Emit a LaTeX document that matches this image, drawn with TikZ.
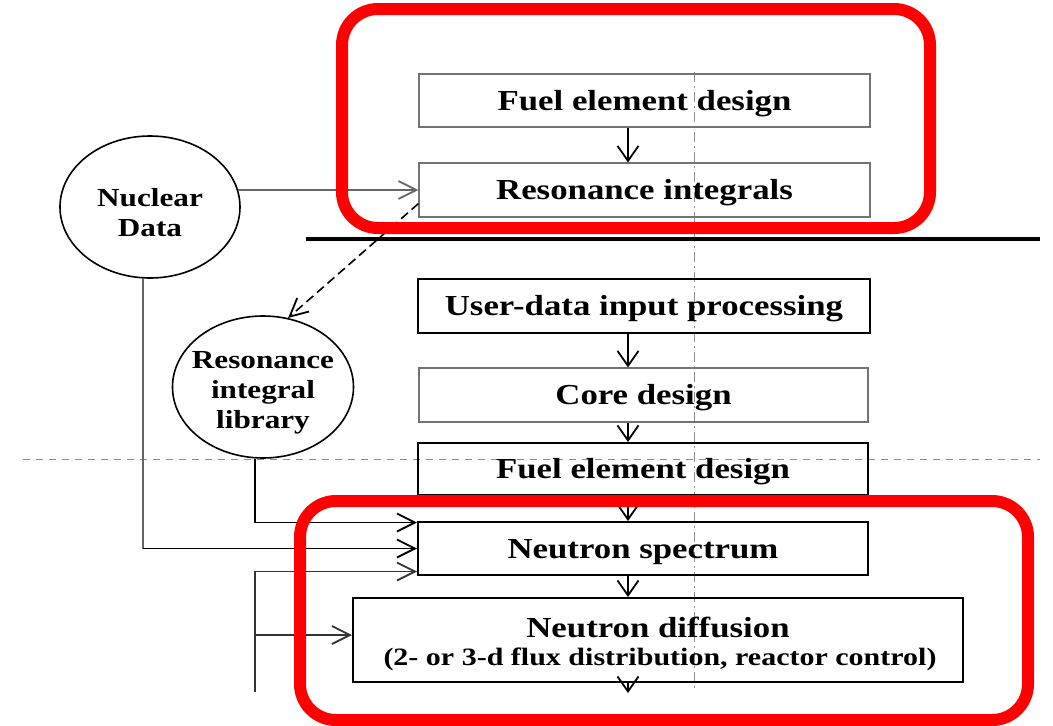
\documentclass[tikz,border=0pt]{standalone}
\usepackage{fontspec}
\setmainfont{Liberation Serif}[FakeStretch=1.2]
\usetikzlibrary{arrows.meta,shapes.geometric}
\tikzset{
  boxthin/.style={draw=black!55, line width=1.1pt, rectangle, inner sep=0pt, text height=24.6pt, text depth=5.5pt, font=\fontsize{29}{34}\selectfont\bfseries},
  boxthick/.style={draw=black, line width=2pt, rectangle, inner sep=0pt, text height=24.6pt, text depth=5.5pt, font=\fontsize{29}{34}\selectfont\bfseries},
  blob/.style={draw=black, line width=1.6pt, ellipse, inner sep=0pt},
  blobtext/.style={inner sep=0pt, align=center, font=\fontsize{26}{30}\selectfont\bfseries},
  lbl/.style={anchor=base, inner sep=0pt},
  arr/.style={-{Straight Barb[length=18pt,width=18pt,line width=1.8pt]}},
  varr/.style={-{Straight Barb[length=15pt,width=21pt,line width=1.8pt]}},
  conn/.style={line width=1.6pt, black},
  redbox/.style={draw=red, line width=12pt, rounded corners=36pt},
}
\begin{document}
\begin{tikzpicture}[x=1pt,y=-1pt]
\useasboundingbox (0,0) rectangle (1053,726);
% guide lines
\draw[black!45, line width=0.9pt, dash pattern=on 10pt off 4pt on 2pt off 4pt] (694,72) -- (694,692);
\draw[black!45, line width=0.9pt, dash pattern=on 7pt off 6pt] (23,459) -- (1040,459);
\draw[black, line width=4pt] (306,239) -- (1040,239);

% boxes
\node[boxthin, minimum width=451pt, minimum height=53pt] (fe1) at (644.5,100.5) {Fuel element design};
\node[boxthin, minimum width=451pt, minimum height=54pt] (ri) at (644.5,190) {Resonance integrals};
\node[boxthick, minimum width=452pt, minimum height=54pt] (ud) at (644,306) {User-data input processing};
\node[boxthin, minimum width=449pt, minimum height=54pt] (cd) at (643.5,395) {Core design};
\node[boxthick, minimum width=450pt, minimum height=52pt] (fe2) at (643,469) {Fuel element design};
\node[boxthick, minimum width=450pt, minimum height=53pt] (sp) at (643,548.5) {Neutron spectrum};
\node[boxthick, minimum width=610pt, minimum height=84pt] (df) at (658,640) {};
\node[lbl, font=\fontsize{29}{34}\selectfont\bfseries] (dft1) at ([yshift=3pt]df.center) {Neutron diffusion};
\node[lbl, font=\fontsize{25}{30}\selectfont\bfseries] (dft2) at ([xshift=2pt,yshift=-25pt]df.center) {(2- or 3-d flux distribution, reactor control)};

\node[blob, minimum width=180pt, minimum height=142pt] (nd) at (150,207) {};
\node[blobtext] (ndt) at ([yshift=-6pt]nd.center) {Nuclear\\Data};
\node[blob, minimum width=181pt, minimum height=142pt] (lib) at (263,387) {};
\node[blobtext] (libt) at ([yshift=-6pt]lib.center) {Resonance\\integral\\library};

% vertical arrows
\coordinate (ax) at (628,0);
\coordinate (out) at (628,693);
\draw[conn, varr] (fe1.south -| ax) -- (ri.north -| ax);
\draw[conn, varr] (ud.south -| ax) -- (cd.north -| ax);
\draw[conn, varr] (cd.south -| ax) -- (fe2.north -| ax);
\draw[conn, varr] (fe2.south -| ax) -- (sp.north -| ax);
\draw[conn, varr] (sp.south -| ax) -- (df.north -| ax);
\draw[conn, varr] (df.south -| ax) -- (out);

% side connectors
\draw[black!60, line width=1.2pt, arr] ([xshift=-3pt]nd.east |- ri.west) -- (ri.west);
\draw[conn, dashed, dash pattern=on 9pt off 5pt, arr] ([yshift=14pt]ri.south west) -- (lib.70);
\draw[black!60, line width=1.2pt] ([xshift=-7pt]nd.south) -- ([xshift=-7pt]nd.south |- sp.west);
\draw[conn, arr] ([xshift=-7pt]nd.south |- sp.west) -- (sp.west);
\draw[conn, arr] ([xshift=-8pt]lib.south) |- ([yshift=26pt]sp.west);
\coordinate (fb) at (255,692);
\coordinate (dfin) at ([yshift=5pt]df.west);
\draw[conn, black!80, arr] (fb) |- ([yshift=-23pt]sp.west);
\draw[conn, black!80, arr] (fb |- dfin) -- (dfin);

% red highlight frames
\draw[redbox] (342,9) rectangle (930,228);
\draw[redbox] (300,501) rectangle (1028,720);
\end{tikzpicture}
\end{document}
